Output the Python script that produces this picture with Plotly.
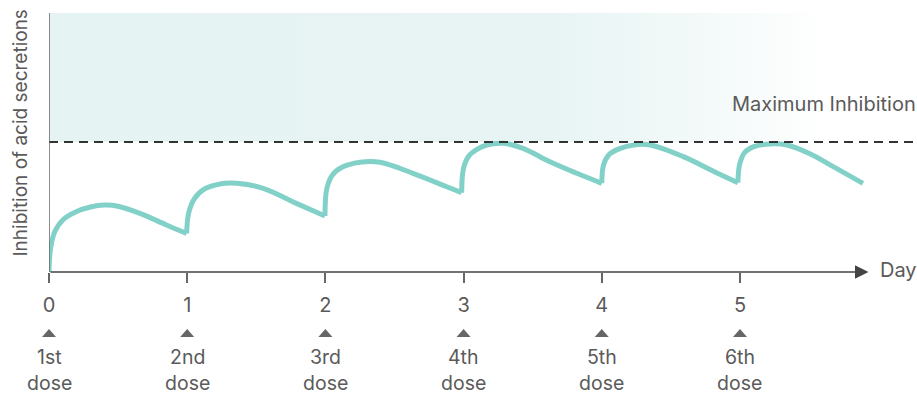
import plotly.graph_objects as go

# Day ticks and dose labels
days = [0, 1, 2, 3, 4, 5]
day_labels = ["0", "1", "2", "3", "4", "5"]
dose_ordinals = ["1st", "2nd", "3rd", "4th", "5th", "6th"]
dose_word = "dose"

# Inhibition level (maximum inhibition = 100), one segment per dose
dose1_x = [0.0, 0.01, 0.04, 0.1, 0.2, 0.3, 0.4, 0.5, 0.658, 0.85, 0.996]
dose1_y = [0.0, 17.0, 30.5, 40.0, 46.5, 50.0, 51.5, 50.6, 45.1, 36.2, 29.7]

dose2_x = [0.996, 1.01, 1.05, 1.12, 1.237, 1.358, 1.55, 1.79, 1.997]
dose2_y = [29.7, 45.0, 56.0, 63.5, 67.7, 68.2, 64.4, 52.8, 43.0]

dose3_x = [1.997, 2.01, 2.05, 2.12, 2.25, 2.395, 2.634, 2.878, 2.986]
dose3_y = [43.0, 64.0, 74.5, 80.5, 84.4, 84.4, 75.9, 65.6, 61.0]

dose4_x = [2.986, 3.0, 3.04, 3.1, 3.167, 3.29, 3.43, 3.625, 3.82, 4.0]
dose4_y = [61.0, 80.0, 89.5, 94.5, 97.7, 99.0, 95.1, 84.8, 75.9, 68.2]

dose5_x = [4.0, 4.012, 4.05, 4.12, 4.23, 4.35, 4.59, 4.83, 4.985]
dose5_y = [68.2, 82.0, 90.0, 94.5, 97.7, 97.7, 88.7, 76.4, 68.7]

dose6_x = [4.985, 4.998, 5.035, 5.1, 5.22, 5.34, 5.51, 5.675, 5.89]
dose6_y = [68.7, 83.0, 92.0, 96.4, 98.5, 97.7, 90.8, 81.0, 68.2]

max_inhibition = 100
x_max = 6.281
y_max = 199.2
axis_end = 5.93

curve_color = "#82d1c9"
text_color = "#5a5a5a"
axis_color = "#666666"
font_family = "Inter, Noto Sans, sans-serif"

fig = go.Figure()

# Shaded band above the maximum inhibition line, fading to white
fig.add_trace(go.Scatter(
    x=[0, x_max, x_max, 0, 0],
    y=[max_inhibition, max_inhibition, y_max, y_max, max_inhibition],
    mode="lines", line=dict(width=0), fill="toself",
    fillgradient=dict(type="horizontal", colorscale=[
        [0.0, "#e6f3f3"], [0.58, "#e8f4f4"], [0.75, "#f3f9f9"],
        [0.9, "#ffffff"], [1.0, "#ffffff"]]),
    hoverinfo="skip", showlegend=False,
))

for sx, sy in [(dose1_x, dose1_y), (dose2_x, dose2_y), (dose3_x, dose3_y),
               (dose4_x, dose4_y), (dose5_x, dose5_y), (dose6_x, dose6_y)]:
    fig.add_trace(go.Scatter(
        x=sx, y=sy, mode="lines",
        line=dict(color=curve_color, width=5, shape="spline", smoothing=1.0),
        cliponaxis=False, showlegend=False, hoverinfo="skip",
    ))

shapes = [
    # dashed maximum inhibition line
    dict(type="line", xref="paper", yref="y", x0=0, x1=1,
         y0=max_inhibition, y1=max_inhibition,
         line=dict(color="#333333", width=1.8, dash="9px,6px")),
    # vertical axis
    dict(type="line", xref="x", yref="y", x0=0, x1=0, y0=0, y1=y_max,
         line=dict(color=axis_color, width=1.5)),
]
# small dose markers under each day (pixel offsets, positive = up)
for d in days:
    shapes.append(dict(
        type="path", xref="paper", yref="paper", xsizemode="pixel", ysizemode="pixel",
        xanchor=d / x_max, yanchor=0, path="M -7,-65 L 7,-65 L 0,-57 Z",
        fillcolor="#666666", line=dict(width=0),
    ))

annotations = [
    # horizontal axis with arrow head
    dict(x=axis_end, y=0, ax=0, ay=0, xref="x", yref="y", axref="x", ayref="y",
         text="", showarrow=True, arrowhead=2, arrowsize=1.8, arrowwidth=1.5,
         arrowcolor="#444444"),
    dict(x=axis_end, y=0, xref="x", yref="y", text="Day", showarrow=False,
         xanchor="left", yanchor="middle", xshift=10, yshift=2,
         font=dict(size=20, color=text_color, family=font_family)),
    dict(x=1, y=max_inhibition, xref="paper", yref="y", text="Maximum Inhibition",
         showarrow=False, xanchor="right", yanchor="bottom", yshift=24, xshift=1,
         font=dict(size=20, color=text_color, family=font_family)),
    dict(x=0, y=0.5, xref="paper", yref="paper", text="Inhibition of acid secretions",
         showarrow=False, textangle=-90, xanchor="center", yanchor="middle",
         xshift=-29, yshift=9,
         font=dict(size=19, color=text_color, family=font_family)),
]
for d, lab in zip(days, dose_ordinals):
    for text, shift in [(lab, -85), (dose_word, -111)]:
        annotations.append(dict(
            x=d, y=0, xref="x", yref="paper", text=text, showarrow=False,
            xanchor="center", yanchor="middle", yshift=shift, borderpad=0,
            font=dict(size=19.5, color=text_color, family=font_family),
        ))

fig.update_layout(
    width=917, height=394,
    margin=dict(l=49, r=0, t=13, b=122),
    paper_bgcolor="white", plot_bgcolor="white",
    xaxis=dict(range=[0, x_max], tickvals=days, ticktext=day_labels,
               ticks="outside", ticklen=10, tickwidth=1.5, tickcolor=axis_color,
               ticklabelstandoff=5,
               showgrid=False, zeroline=False, showline=False,
               tickfont=dict(size=20, color=text_color, family=font_family)),
    yaxis=dict(range=[0, y_max], showticklabels=False, showgrid=False,
               zeroline=False, showline=False, ticks=""),
    shapes=shapes, annotations=annotations,
    showlegend=False,
)

fig.write_html("out.html")
